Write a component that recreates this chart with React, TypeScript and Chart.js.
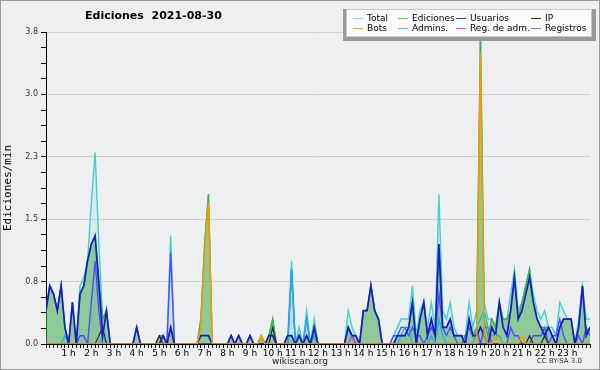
import React, { useEffect, useRef } from 'react';
import { Chart, registerables } from 'chart.js';
Chart.register(...registerables);

// 10-minute bins, values in edits/min, one row per hour (6 bins), final value at 24 h
const total = [
  0.4, 0.7, 0.6, 0.4, 0.7, 0.2,
  0, 0.5, 0, 0.7, 0.8, 1.0,
  1.7, 2.3, 1.2, 0.3, 0.4, 0,
  0, 0, 0, 0, 0, 0,
  0.2, 0, 0, 0, 0, 0,
  0.1, 0.1, 0, 1.3, 0, 0,
  0, 0, 0, 0, 0, 0.3,
  1.2, 1.8, 0, 0, 0, 0,
  0, 0.1, 0, 0.1, 0, 0,
  0.1, 0, 0, 0.1, 0, 0.1,
  0.3, 0, 0, 0, 0.1, 1.0,
  0, 0.2, 0, 0.4, 0, 0.3,
  0, 0, 0, 0, 0, 0,
  0, 0, 0.4, 0.2, 0.1, 0,
  0.4, 0.4, 0.7, 0.4, 0.3, 0,
  0, 0, 0.1, 0.2, 0.3, 0.3,
  0.3, 0.7, 0.1, 0.4, 0.5, 0.2,
  0.5, 0.2, 1.8, 0.4, 0.3, 0.5,
  0.2, 0.1, 0.1, 0.1, 0.5, 0.2,
  0.4, 3.7, 0.5, 0.3, 0.3, 0.2,
  0.5, 0.3, 0.3, 0.6, 0.9, 0.4,
  0.5, 0.7, 0.9, 0.6, 0.4, 0.3,
  0.4, 0.2, 0.2, 0.1, 0.5, 0.4,
  0.3, 0.3, 0, 0.3, 0.7, 0.3,
  0.3,
];

const ediciones = [
  0.4, 0.7, 0.6, 0.4, 0.7, 0.2,
  0, 0.5, 0, 0.6, 0.7, 1.0,
  1.2, 1.3, 0.8, 0.3, 0.4, 0,
  0, 0, 0, 0, 0, 0,
  0.2, 0, 0, 0, 0, 0,
  0.1, 0.1, 0, 0.2, 0, 0,
  0, 0, 0, 0, 0, 0.3,
  1.2, 1.8, 0, 0, 0, 0,
  0, 0.1, 0, 0.1, 0, 0,
  0.1, 0, 0, 0.1, 0, 0.1,
  0.3, 0, 0, 0, 0.1, 0.1,
  0, 0.1, 0, 0.1, 0, 0.2,
  0, 0, 0, 0, 0, 0,
  0, 0, 0.2, 0.1, 0.1, 0,
  0.4, 0.4, 0.7, 0.4, 0.3, 0,
  0, 0, 0, 0.1, 0.1, 0.1,
  0.2, 0.5, 0, 0.3, 0.5, 0.1,
  0.3, 0.1, 1.2, 0.2, 0.2, 0.3,
  0.1, 0.1, 0.1, 0, 0.3, 0.1,
  0.2, 3.7, 0.3, 0.1, 0.3, 0.2,
  0.5, 0.3, 0.3, 0.4, 0.8, 0.3,
  0.5, 0.7, 0.9, 0.5, 0.3, 0.2,
  0.2, 0.2, 0.1, 0, 0.2, 0.3,
  0.3, 0.3, 0, 0.2, 0.7, 0.1,
  0.2,
];

const usuarios = [
  0.4, 0.7, 0.6, 0.4, 0.7, 0.2,
  0, 0.5, 0, 0.6, 0.7, 1.0,
  1.2, 1.3, 0.7, 0.1, 0.4, 0,
  0, 0, 0, 0, 0, 0,
  0.2, 0, 0, 0, 0, 0,
  0, 0.1, 0, 0.2, 0, 0,
  0, 0, 0, 0, 0, 0.1,
  0.1, 0.1, 0, 0, 0, 0,
  0, 0.1, 0, 0.1, 0, 0,
  0.1, 0, 0, 0, 0, 0.1,
  0.1, 0, 0, 0, 0.1, 0.1,
  0, 0.1, 0, 0.1, 0, 0.2,
  0, 0, 0, 0, 0, 0,
  0, 0, 0.2, 0.1, 0.1, 0,
  0.4, 0.4, 0.7, 0.4, 0.3, 0,
  0, 0, 0, 0.1, 0.1, 0.1,
  0.2, 0.5, 0, 0.3, 0.5, 0.1,
  0.3, 0.1, 1.2, 0.2, 0.2, 0.3,
  0.1, 0.1, 0.1, 0, 0.3, 0.1,
  0.1, 0.2, 0.1, 0, 0.2, 0.1,
  0.5, 0.2, 0.1, 0.4, 0.8, 0.3,
  0.4, 0.6, 0.8, 0.5, 0.3, 0.2,
  0.1, 0.2, 0.1, 0, 0.2, 0.3,
  0.3, 0.3, 0, 0.2, 0.7, 0.1,
  0.2,
];

const ip = [
  0, 0, 0, 0, 0, 0,
  0, 0, 0, 0, 0, 0,
  0, 0, 0.1, 0.2, 0, 0,
  0, 0, 0, 0, 0, 0,
  0, 0, 0, 0, 0, 0,
  0.1, 0, 0, 0, 0, 0,
  0, 0, 0, 0, 0, 0,
  0, 0, 0, 0, 0, 0,
  0, 0, 0, 0, 0, 0,
  0, 0, 0, 0, 0, 0,
  0.2, 0, 0, 0, 0, 0,
  0, 0, 0, 0, 0, 0,
  0, 0, 0, 0, 0, 0,
  0, 0, 0, 0, 0, 0,
  0, 0, 0, 0, 0, 0,
  0, 0, 0, 0, 0, 0,
  0, 0, 0, 0, 0, 0,
  0, 0, 0, 0, 0, 0,
  0, 0, 0, 0, 0, 0,
  0, 0, 0, 0, 0, 0,
  0, 0, 0, 0, 0, 0,
  0, 0, 0.1, 0, 0, 0,
  0.1, 0, 0, 0, 0, 0,
  0, 0, 0, 0, 0, 0,
  0,
];

const bots = [
  0, 0, 0, 0, 0, 0,
  0, 0, 0, 0, 0, 0,
  0, 0, 0, 0, 0, 0,
  0, 0, 0, 0, 0, 0,
  0, 0, 0, 0, 0, 0,
  0, 0, 0, 0, 0, 0,
  0, 0, 0, 0, 0, 0.2,
  1.1, 1.7, 0, 0, 0, 0,
  0, 0, 0, 0, 0, 0,
  0, 0, 0, 0.1, 0, 0,
  0, 0, 0, 0, 0, 0,
  0, 0, 0, 0, 0, 0,
  0, 0, 0, 0, 0, 0,
  0, 0, 0, 0, 0, 0,
  0, 0, 0, 0, 0, 0,
  0, 0, 0, 0, 0, 0,
  0, 0, 0, 0, 0, 0,
  0, 0, 0, 0, 0, 0,
  0, 0, 0, 0, 0, 0,
  0, 3.5, 0.1, 0, 0, 0.1,
  0, 0, 0, 0, 0, 0,
  0.1, 0, 0, 0, 0, 0,
  0, 0, 0, 0, 0, 0,
  0, 0, 0, 0, 0, 0,
  0,
];

const admins = [
  0, 0, 0, 0, 0, 0.1,
  0, 0, 0, 0, 0, 0,
  0, 0, 0, 0.1, 0, 0,
  0, 0, 0, 0, 0, 0,
  0, 0, 0, 0, 0, 0,
  0, 0, 0, 0, 0, 0,
  0, 0, 0, 0, 0, 0,
  0, 0, 0, 0, 0, 0,
  0, 0, 0, 0, 0, 0,
  0, 0, 0, 0, 0, 0,
  0, 0, 0, 0, 0, 0.9,
  0, 0, 0, 0.3, 0, 0.1,
  0, 0, 0, 0, 0, 0,
  0, 0, 0, 0, 0, 0,
  0, 0, 0, 0, 0, 0,
  0, 0, 0, 0, 0.1, 0.2,
  0.2, 0, 0, 0, 0, 0,
  0.1, 0, 0.3, 0.1, 0, 0,
  0, 0, 0, 0, 0, 0,
  0.2, 0.3, 0.4, 0.2, 0.1, 0.1,
  0.1, 0, 0, 0, 0, 0,
  0, 0, 0, 0, 0, 0,
  0, 0, 0, 0, 0, 0,
  0, 0, 0, 0, 0, 0,
  0,
];

const regAdm = [
  0, 0, 0, 0, 0, 0,
  0, 0, 0, 0, 0, 0,
  0, 0, 0, 0, 0, 0,
  0, 0, 0, 0, 0, 0,
  0, 0, 0, 0, 0, 0,
  0, 0, 0, 0, 0, 0,
  0, 0, 0, 0, 0, 0,
  0, 0, 0, 0, 0, 0,
  0, 0, 0, 0, 0, 0,
  0, 0, 0, 0, 0, 0,
  0, 0, 0, 0, 0, 0,
  0, 0, 0, 0, 0, 0,
  0, 0, 0, 0, 0, 0,
  0, 0, 0, 0.1, 0, 0,
  0, 0, 0, 0, 0, 0,
  0, 0, 0, 0, 0, 0,
  0, 0, 0, 0, 0, 0,
  0, 0, 0, 0, 0, 0,
  0, 0, 0, 0, 0, 0,
  0, 0, 0, 0, 0, 0,
  0, 0, 0, 0, 0, 0,
  0, 0, 0, 0, 0, 0,
  0, 0, 0, 0, 0, 0,
  0, 0, 0, 0, 0, 0,
  0,
];

const registros = [
  0, 0, 0, 0, 0, 0,
  0, 0, 0, 0.1, 0.1, 0,
  0.5, 1.0, 0.4, 0, 0, 0,
  0, 0, 0, 0, 0, 0,
  0, 0, 0, 0, 0, 0,
  0, 0, 0, 1.1, 0, 0,
  0, 0, 0, 0, 0, 0,
  0, 0, 0, 0, 0, 0,
  0, 0, 0, 0, 0, 0,
  0, 0, 0, 0, 0, 0,
  0, 0, 0, 0, 0, 0.9,
  0, 0.1, 0, 0.3, 0, 0.1,
  0, 0, 0, 0, 0, 0,
  0, 0, 0.2, 0.1, 0, 0,
  0, 0, 0, 0, 0, 0,
  0, 0, 0.1, 0.1, 0.2, 0.2,
  0.1, 0.2, 0.1, 0.1, 0, 0.1,
  0.2, 0.1, 0.6, 0.2, 0.1, 0.2,
  0.1, 0, 0, 0.1, 0.2, 0.1,
  0.2, 0, 0.2, 0.2, 0, 0,
  0, 0, 0, 0.2, 0.1, 0.1,
  0, 0, 0, 0.1, 0.1, 0.1,
  0.2, 0, 0.1, 0.1, 0.3, 0.1,
  0, 0, 0, 0.1, 0, 0.2,
  0.1,
];

const yTickStep = 0.75;
const yMax = 3.75;
const binMinutes = 10;
const dayMinutes = 1440;

const legendItems = [
  { label: 'Total', color: '#7fe3e0' },
  { label: 'Ediciones', color: '#66cc66' },
  { label: 'Usuarios', color: '#3333ee' },
  { label: 'IP', color: '#333333' },
  { label: 'Bots', color: '#ffa020' },
  { label: 'Admins.', color: '#33ccee' },
  { label: 'Reg. de adm.', color: '#dd44ee' },
  { label: 'Registros', color: '#7777ff' },
];

const toPoints = (arr: number[]) => arr.map((v, i) => ({ x: i * binMinutes, y: v }));

const bgPlugin = {
  id: 'bg',
  beforeDraw(chart: any) {
    const { ctx, chartArea } = chart;
    ctx.save();
    ctx.fillStyle = '#efefef';
    ctx.fillRect(0, 0, chart.width, chart.height);
    ctx.fillStyle = '#edeff1';
    ctx.fillRect(chartArea.left, chartArea.top, chartArea.right - chartArea.left, chartArea.bottom - chartArea.top);
    ctx.restore();
  },
};

export default function App() {
  const ref = useRef<HTMLCanvasElement>(null);
  useEffect(() => {
    document.body.style.margin = '0';
    const ds = (label: string, data: number[], color: string, order: number, width: number, fill?: string) => ({
      label,
      data: toPoints(data),
      borderColor: color,
      borderWidth: width,
      backgroundColor: fill || 'transparent',
      fill: fill ? 'origin' : false,
      pointRadius: 0,
      tension: 0,
      order,
    });
    const chart = new Chart(ref.current!, {
      type: 'line',
      data: {
        datasets: [
          ds('Total', total, '#3fd3c8', 9, 1.4, 'rgba(70,210,200,0.13)'),
          ds('Registros', registros, '#4d4dff', 8, 1.4, 'rgba(90,90,255,0.08)'),
          ds('Ediciones', ediciones, '#40b040', 7, 1.4, 'rgba(70,170,70,0.5)'),
          ds('Admins.', admins, '#1fb4e0', 6, 1.4),
          ds('Reg. de adm.', regAdm, '#cc33dd', 5, 1.2),
          ds('IP', ip, '#2a2a2a', 4, 1.2),
          ds('Usuarios', usuarios, '#1a1ac8', 3, 1.7),
          ds('Bots', bots, '#ff9900', 2, 1.5),
        ] as any,
      },
      options: {
        animation: false,
        responsive: false,
        maintainAspectRatio: false,
        events: [],
        layout: { padding: { left: 0, right: 10, top: 32, bottom: 0 } },
        plugins: {
          legend: { display: false },
          tooltip: { enabled: false },
          filler: { drawTime: 'beforeDatasetsDraw' },
        } as any,
        scales: {
          x: {
            type: 'linear',
            min: 0,
            max: dayMinutes,
            afterFit: (s: any) => { s.height = 26; },
            border: { color: '#000', width: 1 },
            grid: { drawOnChartArea: false, drawTicks: true, tickLength: 4, tickColor: '#000', tickWidth: 1 },
            ticks: {
              stepSize: binMinutes,
              autoSkip: false,
              maxRotation: 0,
              minRotation: 0,
              padding: 0,
              color: '#000',
              font: { family: 'DejaVu Sans', size: 9 },
              callback: (v: any) => (v % 60 === 0 && v > 0 && v < dayMinutes ? `${v / 60} h` : ''),
            },
          },
          y: {
            min: 0,
            max: yMax,
            afterFit: (s: any) => { s.width = 46; },
            border: { color: '#000', width: 1 },
            grid: {
              drawTicks: true,
              tickLength: 5,
              tickColor: '#000',
              color: (c: any) => {
                const v = c.tick ? c.tick.value : 0;
                const r = v / yTickStep;
                return Math.abs(r - Math.round(r)) < 1e-6 ? '#cfcfcf' : 'rgba(0,0,0,0)';
              },
            },
            title: {
              display: true,
              text: 'Ediciones/min',
              color: '#000',
              font: { family: 'DejaVu Sans Mono', size: 11 },
              padding: { top: 2, bottom: 0 },
            },
            ticks: {
              stepSize: yTickStep / 4,
              padding: 3,
              color: '#333',
              font: { family: 'DejaVu Sans', size: 8 },
              callback: (v: any) => {
                const r = v / yTickStep;
                return Math.abs(r - Math.round(r)) < 1e-6 ? Number(v).toFixed(1) : '';
              },
            },
          },
        },
      } as any,
      plugins: [bgPlugin],
    });
    return () => chart.destroy();
  }, []);

  const cols = [352, 397, 455, 530];
  return (
    <div style={{ position: 'fixed', left: 0, top: 0, width: 600, height: 370, fontFamily: 'DejaVu Sans' }}>
      <canvas ref={ref} width={600} height={370} style={{ position: 'absolute', left: 0, top: 0, width: 600, height: 370 }} />
      <div style={{ position: 'absolute', left: 0, top: 0, width: 600, height: 370, boxSizing: 'border-box', border: '1px solid #9a9a9a', pointerEvents: 'none' }} />
      <div style={{ position: 'absolute', left: 85, top: 9, fontWeight: 'bold', fontSize: 11, color: '#000', whiteSpace: 'pre' }}>{'Ediciones  2021-08-30'}</div>
      <div style={{ position: 'absolute', left: 343, top: 9, width: 253, height: 32, background: '#9a9a9a' }} />
      <div style={{ position: 'absolute', left: 346, top: 9, width: 246, height: 28, background: '#fbfbfb', border: '1px solid #c8c8c8', boxSizing: 'border-box' }}>
        {legendItems.map((it, k) => {
          const col = k % 4;
          const row = Math.floor(k / 4);
          const lx = cols[col] - 346;
          return (
            <div key={it.label} style={{ position: 'absolute', left: lx, top: 3 + row * 10, height: 10, display: 'flex', alignItems: 'center', whiteSpace: 'nowrap' }}>
              <span style={{ display: 'inline-block', width: 10, height: 1, background: it.color, marginRight: 4 }} />
              <span style={{ fontSize: 9, lineHeight: '10px', color: '#000' }}>{it.label}</span>
            </div>
          );
        })}
      </div>
      <div style={{ position: 'absolute', left: 0, width: 600, top: 356, textAlign: 'center', fontSize: 9, color: '#222' }}>wikiscan.org</div>
      <div style={{ position: 'absolute', right: 18, top: 357, fontSize: 7, color: '#333' }}>CC BY-SA 3.0</div>
    </div>
  );
}
